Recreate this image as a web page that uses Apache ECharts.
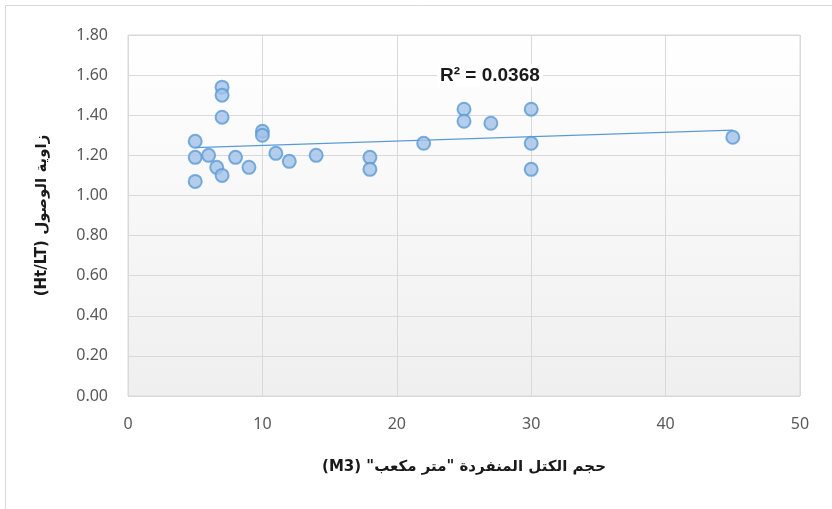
<!DOCTYPE html>
<html>
<head>
<meta charset="utf-8">
<script src="https://cdn.jsdelivr.net/npm/echarts@6/dist/echarts.min.js"></script>
<style>
  html, body { margin: 0; padding: 0; background: #ffffff; }
  #chart { width: 832px; height: 509px; }
</style>
</head>
<body>
<div id="chart"></div>
<script>
// Block volume (m3) against angle of reach (Ht/LT)
const volumes = [5, 5, 5, 6, 6.6, 7, 7, 7, 7, 8, 9, 10, 10, 11, 12, 14, 18, 18, 22, 25, 25, 27, 30, 30, 30, 45];
const angles  = [1.27, 1.19, 1.07, 1.20, 1.14, 1.54, 1.50, 1.39, 1.10, 1.19, 1.14, 1.32, 1.30, 1.21, 1.17, 1.20, 1.19, 1.13, 1.26, 1.43, 1.37, 1.36, 1.43, 1.26, 1.13, 1.29];
const r2Text = '0.0368';

// Right-to-left embedding so the Arabic titles lay out in reading order
const rtl = s => '\u202B' + s + '\u202C';
const xTitle = rtl('حجم الكتل المنفردة "متر مكعب" (M3)');
const yTitle = rtl('زاوية الوصول (Ht/LT)');

// Least-squares linear trend over the points
const n = volumes.length;
const mx = volumes.reduce((a, b) => a + b, 0) / n;
const my = angles.reduce((a, b) => a + b, 0) / n;
let sxy = 0, sxx = 0;
for (let i = 0; i < n; i++) {
  sxy += (volumes[i] - mx) * (angles[i] - my);
  sxx += (volumes[i] - mx) * (volumes[i] - mx);
}
const slope = sxy / sxx;
const intercept = my - slope * mx;
const xMin = Math.min(...volumes), xMax = Math.max(...volumes);
const trend = [[xMin, intercept + slope * xMin], [xMax, intercept + slope * xMax]];

const chart = echarts.init(document.getElementById('chart'), null, { renderer: 'canvas' });
chart.setOption({
  animation: false,
  backgroundColor: '#ffffff',
  graphic: [{
    type: 'rect',
    shape: { x: 5.5, y: 5.5, width: 840, height: 520 },
    style: { fill: 'none', stroke: '#d9d9d9', lineWidth: 1 },
    silent: true, z: -1
  }, {
    type: 'text',
    left: 437, top: 64,
    z: 10,
    style: {
      text: 'R² = ' + r2Text,
      fontFamily: 'Liberation Sans', fontWeight: 'bold', fontSize: 19, fill: '#1a1a1a',
      backgroundColor: '#ffffff', padding: [2, 3, 2, 3]
    }
  }],
  grid: {
    left: 128, right: 32, top: 35, bottom: 113,
    show: true,
    borderColor: '#d9d9d9', borderWidth: 1,
    backgroundColor: new echarts.graphic.LinearGradient(0, 0, 0, 1, [
      { offset: 0, color: '#ffffff' },
      { offset: 1, color: '#efefef' }
    ])
  },
  xAxis: {
    type: 'value', min: 0, max: 50, interval: 10,
    axisLine: { show: false }, axisTick: { show: false },
    splitLine: { show: true, lineStyle: { color: '#d9d9d9', width: 1 } },
    axisLabel: { color: '#595959', fontFamily: 'Noto Sans', fontSize: 16, margin: 20 },
    name: xTitle, nameLocation: 'middle', nameGap: 64,
    nameTextStyle: { color: '#1a1a1a', fontFamily: 'DejaVu Sans', fontWeight: 'bold', fontSize: 15 }
  },
  yAxis: {
    type: 'value', min: 0, max: 1.8, interval: 0.2,
    axisLine: { show: false }, axisTick: { show: false },
    splitLine: { show: true, lineStyle: { color: '#d9d9d9', width: 1 } },
    axisLabel: { color: '#595959', fontFamily: 'Noto Sans', fontSize: 16, margin: 20, formatter: v => v.toFixed(2) },
    name: yTitle, nameLocation: 'middle', nameGap: 78, nameRotate: 90,
    nameTextStyle: { color: '#1a1a1a', fontFamily: 'DejaVu Sans', fontWeight: 'bold', fontSize: 15 }
  },
  series: [{
    type: 'line',
    data: trend,
    symbol: 'none',
    lineStyle: { color: '#5b9bd5', width: 1.25 },
    z: 2
  }, {
    type: 'scatter',
    data: volumes.map((v, i) => [v, angles[i]]),
    symbol: 'circle', symbolSize: 13,
    itemStyle: { color: '#a4c2e8', borderColor: '#5b9bd5', borderWidth: 2 },
    z: 3
  }]
});
</script>
</body>
</html>
